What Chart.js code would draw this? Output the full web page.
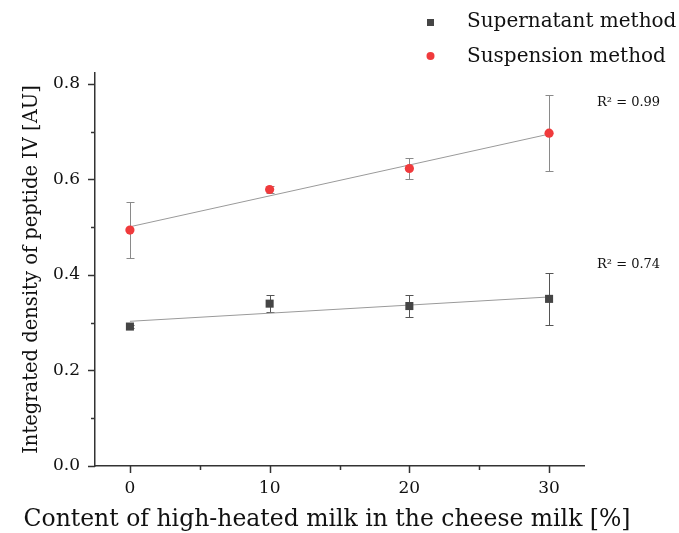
<!DOCTYPE html>
<html>
<head>
<meta charset="utf-8">
<script src="https://cdn.jsdelivr.net/npm/chart.js@4/dist/chart.umd.min.js"></script>
<style>
  html, body { margin: 0; padding: 0; background: #ffffff; }
  #wrap { width: 679px; height: 533px; }
</style>
</head>
<body>
<div id="wrap"><canvas id="c" width="679" height="533"></canvas></div>
<script>
// ---- data ----
const xValues = [0, 10, 20, 30];
const supernatant = [0.292, 0.340, 0.335, 0.350];
const supernatantErr = [0.004, 0.018, 0.024, 0.054];
const suspension = [0.494, 0.579, 0.623, 0.697];
const suspensionErr = [0.058, 0.007, 0.021, 0.080];
const fitX = [0, 30];
const supernatantFit = [0.303, 0.354];
const suspensionFit = [0.501, 0.695];
const seriesNames = ['Supernatant method', 'Suspension method'];
const r2Labels = ['R\u00B2 = 0.99', 'R\u00B2 = 0.74'];
const xTickLabels = [0, 10, 20, 30];
const yTickLabels = [0.0, 0.2, 0.4, 0.6, 0.8];
const xTitle = 'Content of high-heated milk in the cheese milk [%]';
const yTitle = 'Integrated density of peptide IV [AU]';

const SERIF = '"DejaVu Serif", "Liberation Serif", serif';
const RED = '#f03a3c';
const DARK = '#454545';

const toPts = (xs, ys) => xs.map((x, i) => ({ x: x, y: ys[i] }));

const errorBarPlugin = {
  id: 'errorBars',
  beforeDatasetsDraw(chart) {
    const { ctx, scales: { x, y } } = chart;
    const sets = [
      { vals: supernatant, errs: supernatantErr, color: '#555555' },
      { vals: suspension, errs: suspensionErr, color: '#8a8a8a' }
    ];
    ctx.save();
    ctx.lineWidth = 1;
    sets.forEach(s => {
      ctx.strokeStyle = s.color;
      xValues.forEach((xv, i) => {
        const px = Math.round(x.getPixelForValue(xv)) + 0.5;
        const top = Math.round(y.getPixelForValue(s.vals[i] + s.errs[i])) + 0.5;
        const bot = Math.round(y.getPixelForValue(s.vals[i] - s.errs[i])) + 0.5;
        ctx.beginPath();
        ctx.moveTo(px, top); ctx.lineTo(px, bot);
        ctx.moveTo(px - 4, top); ctx.lineTo(px + 4, top);
        ctx.moveTo(px - 4, bot); ctx.lineTo(px + 4, bot);
        ctx.stroke();
      });
    });
    ctx.restore();
  }
};

const decorPlugin = {
  id: 'decor',
  afterDraw(chart) {
    const { ctx, scales: { x, y } } = chart;
    ctx.save();
    // tick marks (major/minor), outside the axes
    ctx.strokeStyle = '#333333';
    ctx.lineWidth = 1.5;
    const xb = x.top;
    x.ticks.forEach(t => {
      const px = Math.round(x.getPixelForValue(t.value)) + 0.5;
      const major = Math.abs(t.value % 10) < 1e-9;
      ctx.beginPath();
      ctx.moveTo(px, xb);
      ctx.lineTo(px, xb + (major ? 7 : 4));
      ctx.stroke();
    });
    const yr = y.right;
    y.ticks.forEach(t => {
      const py = Math.round(y.getPixelForValue(t.value)) + 0.5;
      const major = Math.abs(Math.round(t.value * 10) % 2) === 0;
      ctx.beginPath();
      ctx.moveTo(yr, py);
      ctx.lineTo(yr - (major ? 7 : 4), py);
      ctx.stroke();
    });

    // x axis title (drawn freely so it can extend beyond the plot width)
    ctx.font = '23.5px ' + SERIF;
    ctx.fillStyle = '#111111';
    ctx.textAlign = 'center';
    ctx.textBaseline = 'middle';
    ctx.fillText(xTitle, 327, 520);

    // legend
    ctx.font = '20px ' + SERIF;
    ctx.fillStyle = '#111111';
    ctx.textBaseline = 'middle';
    ctx.textAlign = 'left';
    ctx.fillText(seriesNames[0], 467, 22);
    ctx.fillText(seriesNames[1], 467, 57);
    ctx.fillStyle = DARK;
    ctx.fillRect(427, 19, 7, 7);
    ctx.fillStyle = RED;
    ctx.beginPath();
    ctx.arc(430.5, 56, 4, 0, Math.PI * 2);
    ctx.fill();

    // R² annotations
    ctx.font = '13px ' + SERIF;
    ctx.fillStyle = '#111111';
    ctx.fillText(r2Labels[0], 597, 103);
    ctx.fillText(r2Labels[1], 597, 265);
    ctx.restore();
  }
};

new Chart(document.getElementById('c'), {
  type: 'scatter',
  data: {
    datasets: [
      {
        label: seriesNames[0],
        data: toPts(xValues, supernatant),
        pointStyle: 'rect',
        pointRadius: 5.7,
        backgroundColor: DARK,
        borderColor: DARK,
        borderWidth: 0,
        showLine: false
      },
      {
        label: seriesNames[1],
        data: toPts(xValues, suspension),
        pointStyle: 'circle',
        pointRadius: 4.6,
        backgroundColor: RED,
        borderColor: RED,
        borderWidth: 0,
        showLine: false
      },
      {
        label: 'fit1',
        data: toPts(fitX, supernatantFit),
        showLine: true,
        pointRadius: 0,
        borderColor: '#9a9a9a',
        borderWidth: 1
      },
      {
        label: 'fit2',
        data: toPts(fitX, suspensionFit),
        showLine: true,
        pointRadius: 0,
        borderColor: '#9a9a9a',
        borderWidth: 1
      }
    ]
  },
  options: {
    responsive: false,
    animation: false,
    devicePixelRatio: 1,
    layout: { padding: { top: 73, right: 95, left: 0, bottom: 0 } },
    plugins: { legend: { display: false }, tooltip: { enabled: false } },
    scales: {
      x: {
        type: 'linear',
        min: -2.5,
        max: 32.5,
        afterBuildTicks(scale) {
          scale.ticks = [0, 5, 10, 15, 20, 25, 30].map(v => ({ value: v }));
        },
        afterFit(scale) { scale.height = 67; },
        ticks: {
          padding: 5,
          color: '#111111',
          font: { family: SERIF, size: 17 },
          callback(v) { return xTickLabels.includes(v) ? String(v) : ''; }
        },
        grid: { drawOnChartArea: false, tickLength: 7, tickColor: 'rgba(0,0,0,0)' },
        border: { display: true, color: '#333333', width: 1.5 },
        title: { display: false, text: xTitle }
      },
      y: {
        type: 'linear',
        min: 0,
        max: 0.823,
        afterBuildTicks(scale) {
          scale.ticks = [0, 0.1, 0.2, 0.3, 0.4, 0.5, 0.6, 0.7, 0.8].map(v => ({ value: v }));
        },
        afterFit(scale) { scale.width = 95; },
        ticks: {
          padding: 8,
          color: '#111111',
          font: { family: SERIF, size: 17 },
          callback(v) {
            const hit = yTickLabels.find(t => Math.abs(t - v) < 1e-9);
            return hit === undefined ? '' : hit.toFixed(1);
          }
        },
        grid: { drawOnChartArea: false, tickLength: 7, tickColor: 'rgba(0,0,0,0)' },
        border: { display: true, color: '#333333', width: 1.5 },
        title: {
          display: true,
          text: yTitle,
          color: '#111111',
          font: { family: SERIF, size: 19.5, lineHeight: 1 },
          padding: { top: 22, bottom: 0 }
        }
      }
    }
  },
  plugins: [errorBarPlugin, decorPlugin]
});
</script>
</body>
</html>
